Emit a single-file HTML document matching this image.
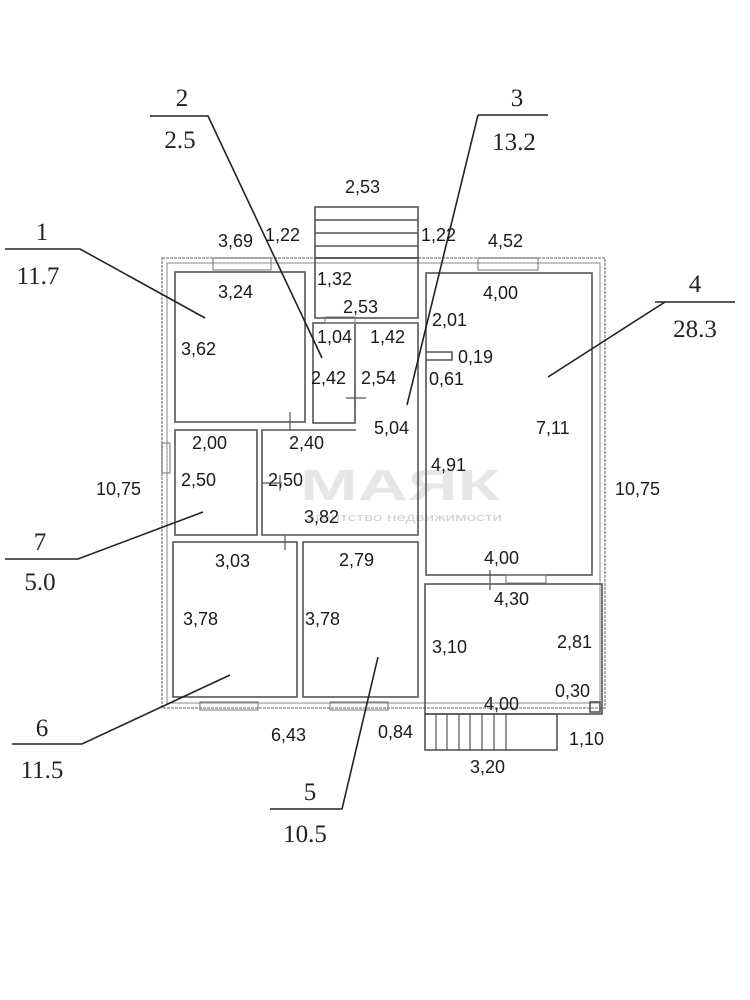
<!DOCTYPE html>
<html><head><meta charset="utf-8"><style>
html,body{margin:0;padding:0;background:#fff;}
svg{display:block;}
.d{font-family:"Liberation Sans",sans-serif;font-size:18px;fill:#1a1a1a;}
.l{font-family:"Liberation Serif",serif;font-size:25px;fill:#222;}
</style></head><body>
<svg width="750" height="1000" viewBox="0 0 750 1000" xmlns="http://www.w3.org/2000/svg">
<rect width="750" height="1000" fill="#fff"/>
<!-- watermark -->
<g font-family="Liberation Sans, sans-serif">
<text x="300" y="500" font-size="44" font-weight="bold" fill="#e6e6e6" textLength="200" lengthAdjust="spacingAndGlyphs">МАЯК</text>
<text x="306" y="521" font-size="11" fill="#d0d0d0" textLength="196" lengthAdjust="spacingAndGlyphs">агентство недвижимости</text>
</g>
<g fill="none" stroke="#555" stroke-width="1.6">
<rect x="162" y="258" width="443" height="450" stroke="#999" stroke-dasharray="3 1"/>
<rect x="167" y="263" width="433" height="440" stroke="#888" stroke-width="1"/>
<rect x="175" y="272" width="130" height="150"/>
<rect x="313" y="323" width="42" height="100"/>
<path d="M356 323 H418 V535 H262 V430 H356"/>
<rect x="315" y="258" width="103" height="60"/>
<rect x="315" y="207" width="103" height="51"/>
<line x1="315" y1="220" x2="418" y2="220"/><line x1="315" y1="233" x2="418" y2="233"/><line x1="315" y1="246" x2="418" y2="246"/>
<rect x="426" y="273" width="166" height="302"/>
<path d="M426 352 H452 V360 H426"/>
<rect x="425" y="584" width="177" height="130"/>
<rect x="590" y="702" width="10" height="10"/>
<rect x="425" y="714" width="132" height="36"/>
<g stroke-width="1.2"><line x1="436" y1="714" x2="436" y2="750"/><line x1="447" y1="714" x2="447" y2="750"/><line x1="459" y1="714" x2="459" y2="750"/><line x1="470" y1="714" x2="470" y2="750"/><line x1="482" y1="714" x2="482" y2="750"/><line x1="494" y1="714" x2="494" y2="750"/><line x1="506" y1="714" x2="506" y2="750"/></g>
<rect x="175" y="430" width="82" height="105"/>
<rect x="173" y="542" width="124" height="155"/>
<rect x="303" y="542" width="115" height="155"/>
<g stroke="#777" stroke-width="1"><rect x="213" y="258" width="58" height="12"/><rect x="478" y="258" width="60" height="12"/><rect x="200" y="702" width="58" height="8"/><rect x="330" y="702" width="58" height="8"/><rect x="162" y="443" width="8" height="30"/><rect x="506" y="575" width="40" height="8"/><rect x="325" y="317" width="30" height="6"/></g>
<g stroke-width="1.2"><line x1="346" y1="398" x2="366" y2="398"/><line x1="355" y1="388" x2="355" y2="408"/><line x1="262" y1="483" x2="282" y2="483"/><line x1="285" y1="535" x2="285" y2="550"/><line x1="290" y1="412" x2="290" y2="430"/><line x1="490" y1="570" x2="490" y2="590"/><line x1="280" y1="475" x2="280" y2="491"/></g>
</g>
<g stroke="#222" stroke-width="1.6" fill="none">
<path d="M5 249 H80 L205 318"/>
<path d="M150 116 H208 L322 358"/>
<path d="M478 115 H548"/><path d="M478 115 L407 405"/>
<path d="M655 302 H735"/><path d="M665 302 L548 377"/>
<path d="M5 559 H78 L203 512"/>
<path d="M12 744 H82 L230 675"/>
<path d="M270 809 H342 L378 657"/>
</g>
<g class="l" text-anchor="middle">
<text x="42" y="240">1</text><text x="38" y="284">11.7</text>
<text x="182" y="106">2</text><text x="180" y="148">2.5</text>
<text x="517" y="106">3</text><text x="514" y="150">13.2</text>
<text x="695" y="292">4</text><text x="695" y="337">28.3</text>
<text x="40" y="550">7</text><text x="40" y="590">5.0</text>
<text x="42" y="736">6</text><text x="42" y="778">11.5</text>
<text x="310" y="800">5</text><text x="305" y="842">10.5</text>
</g>
<g class="d">
<text x="345" y="193">2,53</text>
<text x="218" y="247">3,69</text><text x="265" y="241">1,22</text><text x="421" y="241">1,22</text><text x="488" y="247">4,52</text>
<text x="218" y="298">3,24</text><text x="317" y="285">1,32</text><text x="343" y="313">2,53</text>
<text x="181" y="355">3,62</text><text x="317" y="343">1,04</text><text x="370" y="343">1,42</text>
<text x="311" y="384">2,42</text><text x="361" y="384">2,54</text>
<text x="483" y="299">4,00</text><text x="432" y="326">2,01</text><text x="458" y="363">0,19</text><text x="429" y="385">0,61</text>
<text x="374" y="434">5,04</text><text x="536" y="434">7,11</text>
<text x="192" y="449">2,00</text><text x="289" y="449">2,40</text>
<text x="431" y="471">4,91</text>
<text x="96" y="495">10,75</text><text x="615" y="495">10,75</text>
<text x="181" y="486">2,50</text><text x="268" y="486">2,50</text><text x="304" y="523">3,82</text>
<text x="215" y="567">3,03</text><text x="339" y="566">2,79</text><text x="484" y="564">4,00</text>
<text x="494" y="605">4,30</text>
<text x="183" y="625">3,78</text><text x="305" y="625">3,78</text>
<text x="432" y="653">3,10</text><text x="557" y="648">2,81</text>
<text x="555" y="697">0,30</text><text x="484" y="710">4,00</text>
<text x="271" y="741">6,43</text><text x="378" y="738">0,84</text><text x="569" y="745">1,10</text>
<text x="470" y="773">3,20</text>
</g>
</svg>
</body></html>
